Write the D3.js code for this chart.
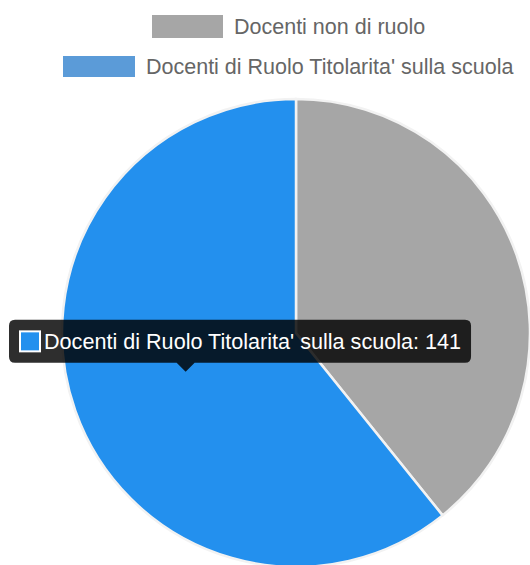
<!DOCTYPE html>
<html>
<head>
<meta charset="utf-8">
<script src="https://cdn.jsdelivr.net/npm/d3@7"></script>
<style>
  html, body { margin: 0; padding: 0; background: #fff; }
  svg { display: block; font-family: Arial, "Liberation Sans", sans-serif; }
</style>
</head>
<body>
<svg id="chart" width="530" height="565"></svg>
<script>
// dati
const labels = ["Docenti non di ruolo", "Docenti di Ruolo Titolarita' sulla scuola"];
const values = [91, 141];
const sliceColors = ["#a6a6a6", "#2390ee"];
const legendColors = ["#a6a6a6", "#5b9bd8"];
const activeIndex = 1; // slice con tooltip

const W = 530, H = 565;
const cx = 296, cy = 333, radius = 234;

const svg = d3.select("#chart");

// legenda
const legendRows = [
  { x: 152, y: 15, w: 71, h: 23 },
  { x: 63, y: 56, w: 72, h: 21 }
];
const legend = svg.append("g").attr("class", "legend");
labels.forEach((lab, i) => {
  const r = legendRows[i];
  legend.append("rect")
    .attr("x", r.x).attr("y", r.y)
    .attr("width", r.w).attr("height", r.h)
    .attr("fill", legendColors[i]);
  legend.append("text")
    .attr("x", r.x + r.w + 11)
    .attr("y", r.y + r.h / 2)
    .attr("dy", "0.35em")
    .attr("font-size", 21.5)
    .attr("fill", "#666")
    .text(lab);
});

// torta
const pie = d3.pie().sort(null).value(d => d);
const arcs = pie(values);
const arc = d3.arc().innerRadius(0).outerRadius(radius);

const g = svg.append("g").attr("transform", `translate(${cx},${cy})`);
g.selectAll("path")
  .data(arcs)
  .join("path")
  .attr("d", arc)
  .attr("fill", (d, i) => sliceColors[i])
  .attr("stroke", "#f2f2f2")
  .attr("stroke-width", 2.5);

// tooltip (Chart.js style)
const anchor = d3.arc().innerRadius(0).outerRadius(radius).centroid(arcs[activeIndex]);
const tipX = cx + anchor[0], tipY = cy + anchor[1];
const tipText = `${labels[activeIndex]}: ${values[activeIndex]}`;

const tip = svg.append("g").attr("class", "tooltip");
const bg = tip.append("path").attr("fill", "rgba(0,0,0,0.82)");
const txt = tip.append("text")
  .attr("font-size", 21.6)
  .attr("fill", "#fff")
  .text(tipText);

const textW = txt.node().getComputedTextLength();
const boxH = 43, pad = 10, sw = 22, gap = 3, caret = 9, rad = 6;
const boxW = pad + sw + gap + textW + pad;
const boxX = 9;
const boxY = tipY - caret - boxH;

const x0 = boxX, y0 = boxY, x1 = boxX + boxW, y1 = boxY + boxH;
bg.attr("d", [
  `M${x0 + rad},${y0}`,
  `H${x1 - rad}`, `Q${x1},${y0} ${x1},${y0 + rad}`,
  `V${y1 - rad}`, `Q${x1},${y1} ${x1 - rad},${y1}`,
  `H${tipX + caret}`, `L${tipX},${tipY}`, `L${tipX - caret},${y1}`,
  `H${x0 + rad}`, `Q${x0},${y1} ${x0},${y1 - rad}`,
  `V${y0 + rad}`, `Q${x0},${y0} ${x0 + rad},${y0}`, "Z"
].join(""));

tip.append("rect")
  .attr("x", x0 + pad + 1).attr("y", y0 + (boxH - sw) / 2 + 1)
  .attr("width", sw - 2).attr("height", sw - 2)
  .attr("fill", sliceColors[activeIndex])
  .attr("stroke", "#fff").attr("stroke-width", 2);

txt.attr("x", x0 + pad + sw + gap)
  .attr("y", y0 + boxH / 2)
  .attr("dy", "0.36em");
</script>
</body>
</html>
